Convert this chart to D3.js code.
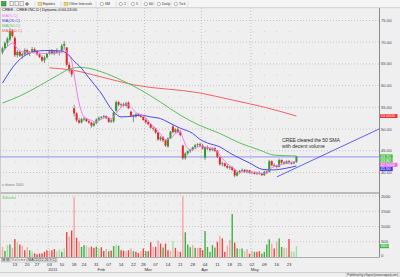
<!DOCTYPE html>
<html>
<head>
<meta charset="utf-8">
<script src="https://cdn.jsdelivr.net/npm/d3@7"></script>
<style>
  body { margin: 0; background: #efefef; }
  svg { display: block; font-family: "Liberation Sans", Arial, sans-serif; }
</style>
</head>
<body>
<svg id="main-svg" width="400" height="277"></svg>
<script>
// ---- data ----
var firstDay = "2010-12-06", lastDay = "2011-05-26";
var holidays = ["2010-12-24", "2011-01-17", "2011-02-21", "2011-04-22"];

// [open, high, low, close]
var candles = [
  [67.6,69.0,67.2,68.6],[68.6,70.2,68.3,69.8],[69.8,71.2,69.0,70.8],[70.6,73.2,70.2,72.6],[72.6,73.0,71.0,71.4],
  [71.0,71.4,66.6,67.0],[67.0,68.2,66.5,67.8],[67.8,68.0,66.6,66.9],[66.9,67.6,66.2,67.3],[67.2,68.6,67.0,68.2],
  [68.2,68.5,67.2,67.5],[67.5,68.0,66.8,67.8],[67.8,68.9,67.5,68.4],[68.4,68.8,67.6,67.9],[67.9,68.2,66.9,67.2],
  [67.2,67.6,66.3,66.6],[66.6,67.0,65.4,65.8],[65.8,66.9,65.2,66.5],[66.5,67.6,66.2,67.3],[67.3,68.3,67.0,67.9],
  [67.9,68.4,67.1,67.4],[67.4,68.2,67.0,67.9],[67.9,68.6,67.4,67.6],[67.6,68.0,66.9,67.8],[67.8,69.6,67.5,69.2],
  [69.2,70.3,68.4,69.6],[68.8,68.9,64.4,64.8],[64.8,65.4,63.0,63.5],[63.6,64.0,62.0,62.6],[54.8,55.6,52.9,53.6],
  [53.6,53.9,51.6,52.0],[52.0,52.6,51.2,51.5],[51.5,52.6,51.3,52.3],[52.2,52.8,51.8,52.4],[52.4,52.6,51.6,51.8],
  [51.8,52.2,51.2,51.5],[51.5,51.7,50.3,50.8],[50.8,51.6,50.5,51.3],[51.3,52.4,51.1,52.2],[52.2,52.9,51.9,52.6],
  [52.6,53.0,52.2,52.8],[52.8,53.3,52.4,53.0],[53.0,53.2,52.3,52.5],[52.5,52.8,51.4,51.7],[51.7,52.3,51.4,52.0],
  [51.8,54.0,51.4,53.8],[54.2,56.6,54.0,56.2],[56.2,56.5,55.2,55.6],[55.6,56.0,55.0,55.7],[55.7,56.1,55.2,55.4],
  [55.4,56.3,55.2,56.0],[56.1,56.4,54.6,54.8],[54.0,54.2,52.8,53.1],[53.1,53.4,51.6,52.9],[52.9,53.6,52.6,53.4],
  [53.4,53.7,52.9,53.1],[53.1,53.5,52.6,52.8],[52.8,53.0,51.9,52.1],[52.1,52.5,51.2,51.6],[51.6,52.0,50.9,51.1],
  [51.1,51.4,50.1,50.3],[50.3,50.6,49.6,50.1],[50.1,50.3,48.9,49.2],[49.2,49.4,47.3,47.6],[47.6,48.4,47.2,48.1],
  [48.1,48.4,47.0,47.4],[47.4,47.6,45.9,46.2],[46.0,48.1,45.7,47.9],[47.9,49.6,47.7,49.4],[50.6,51.0,49.0,49.3],
  [49.3,50.2,49.0,49.9],[49.9,50.4,49.1,49.4],[49.4,49.7,48.3,48.6],[46.2,46.4,42.9,43.3],[43.3,44.7,42.9,44.4],
  [44.4,45.1,44.0,44.9],[44.9,45.5,44.5,45.2],[45.2,46.0,45.0,45.8],[45.8,46.6,45.5,46.3],[46.3,46.8,45.9,46.5],
  [46.5,46.9,46.0,46.2],[46.2,46.6,45.3,45.5],[43.4,46.0,42.9,45.8],[45.8,46.2,45.2,45.5],[45.5,45.9,44.8,45.2],
  [45.2,45.8,44.9,45.6],[45.6,45.9,44.7,45.0],[45.0,45.2,43.3,43.6],[43.5,43.7,41.6,41.9],[41.9,42.5,41.4,42.1],
  [42.1,42.3,41.2,41.5],[41.5,41.9,40.8,41.1],[41.1,41.6,40.6,41.3],[41.3,41.4,40.3,40.6],[40.6,40.8,38.9,39.3],
  [39.3,40.2,39.1,40.0],[40.0,40.6,39.7,40.4],[40.4,40.9,40.1,40.6],[40.6,40.8,39.9,40.1],[40.1,40.7,39.8,40.5],
  [40.5,40.6,39.7,39.9],[39.9,40.4,39.6,40.1],[40.1,40.3,39.5,39.7],[39.7,40.2,39.4,39.9],[39.9,40.3,39.5,39.7],
  [39.7,39.9,39.2,39.4],[39.4,40.4,39.2,40.2],[40.2,40.5,39.7,39.9],[40.1,42.9,40.0,42.6],[42.6,42.8,41.4,41.7],
  [41.7,42.1,41.2,41.5],[41.5,41.8,40.9,41.3],[41.3,43.2,41.2,42.9],[42.9,43.0,42.0,42.3],[42.3,42.6,41.8,42.0],
  [42.0,42.8,41.9,42.6],[42.6,42.9,41.9,42.2],[42.2,42.5,41.8,42.1],[42.1,42.6,41.9,42.4],[42.4,43.8,42.2,43.7]
];

var volumes = [330,200,390,410,300,590,500,410,370,220,320,220,190,120,90,110,120,170,220,200,
  220,260,190,240,170,280,820,670,870,1970,630,500,330,390,380,310,340,300,340,280,
  320,200,260,190,210,360,410,370,220,210,190,220,280,190,170,130,190,280,190,190,
  480,330,330,540,440,310,440,220,200,520,300,190,170,1990,810,410,320,390,300,300,
  300,230,850,330,170,390,310,500,690,610,170,370,560,1410,470,280,260,280,190,260,
  110,190,170,170,190,110,170,410,580,440,280,500,610,330,300,300,590,190,170,360];
// r = red, p = pale red, g = green, l = pale green
var volColors = [
  "p","g","l","g","p","r","l","r","p","r",
  "p","g","l","r","r","r","r","r","r","p",
  "r","r","l","l","g","l","r","p","r","p",
  "r","p","g","g","l","p","r","r","g","l",
  "r","r","p","g","r","g","l","g","r","r",
  "p","r","p","g","r","r","p","r","g","r",
  "r","p","r","p","r","g","r","r","p","l",
  "r","p","r","p","g","g","g","p","g","p",
  "r","r","g","g","g","g","g","r","p","r",
  "r","p","p","g","r","g","l","g","l","p",
  "r","p","g","r","r","g","g","g","g","p",
  "r","p","g","g","p","l","r","l","l","l"];

var ma5 = [[0,67.6],[2,69.0],[4,69.8],[6,68.6],[8,67.8],[12,67.6],[16,67.4],[20,67.4],[24,67.8],[25,68.4],
  [26,67.8],[27,66.8],[28,65.6],[29,62.5],[30,59.0],[31,56.0],[32,54.0],[33,52.8],[36,52.0],[38,51.6],
  [40,52.3],[42,52.8],[44,52.4],[46,53.6],[48,55.0],[50,55.8],[52,55.0],[54,53.8],[56,53.3],[58,52.6],
  [60,51.2],[62,50.2],[64,48.8],[66,47.6],[68,47.8],[70,49.0],[72,49.3],[73,48.0],[74,46.5],[76,45.2],
  [78,45.5],[80,46.0],[82,45.9],[84,45.6],[86,45.4],[88,44.0],[90,42.6],[92,41.6],[94,40.8],[96,40.0],
  [98,40.2],[100,40.1],[102,40.0],[104,39.8],[106,39.8],[107,39.9],[108,40.6],[110,41.4],[112,41.7],
  [114,42.0],[116,42.3],[119,42.5]];
var ma20 = [[0,60.6],[6,65.5],[11,67.5],[15,68.0],[19,68.1],[23,68.0],[26,67.5],[29,65.6],[31,64.6],
  [35,61.8],[39.5,58.6],[45,54.0],[48,52.8],[53,53.0],[56,53.2],[60,52.8],[64,52.4],[67,51.6],[69,51.0],
  [72,50.2],[77,49.0],[80,47.6],[83,46.8],[88,45.9],[92,44.5],[96,43.3],[100,42.2],[105.5,40.7],
  [109.5,40.6],[115,41.0],[119,41.5]];
var ma50 = [[0,56.0],[7,57.6],[15,60.0],[23,62.6],[27,63.8],[31,64.2],[35,64.0],[40,63.2],[48,61.3],
  [56,59.0],[64,56.2],[72,53.2],[80,50.8],[88,49.0],[96,46.8],[104,45.2],[110,44.0],[119,43.8]];
var ma200 = [[19,64.1],[28,63.6],[40,62.0],[53,60.2],[80,58.3],[93,56.7],[107,54.9],[119,53.0]];

var trendLine = [[111.1,39.0],[152.4,50.0]];
var hLevel = 43.6;

var priceTicks = [40,45,50,55,60,65,70,75];
var volTicks = [0,500,1000,1500,2000];
var studyNames = ["MA(5,C)","MA(20,C)","MA(50,C)","MA(200,C)"];

// ---- layout ----
var svg = d3.select("#main-svg");
var axisX = 379.5, panelTop = 8, volTop = 193, volBottom = 257;
var cUp = "#2f9a2f", cDown = "#ee2222", cWick = "#666";
var colMA = ["#f07cf0","#4848e6","#5cbf5c","#f06262"];
var vcol = {r:"#f04444", p:"#f5a6a6", g:"#40b040", l:"#a6dca6"};

var parse = d3.timeParse("%Y-%m-%d"), fmt = d3.timeFormat("%Y-%m-%d");
var dates = d3.timeDay.range(parse(firstDay), d3.timeDay.offset(parse(lastDay), 1))
  .filter(function(d){ return d.getDay() > 0 && d.getDay() < 6 && holidays.indexOf(fmt(d)) < 0; });

var x = d3.scaleLinear().domain([0, 119]).range([2.5, 2.5 + 119 * 2.47]);
var y = d3.scaleLinear().domain([40, 75]).range([172.5, 20.5]);
var yv = d3.scaleLinear().domain([0, 2000]).range([volBottom, 196]);

var weekIdx = [], monthIdx = [];
dates.forEach(function(d, i){
  if (i == 0) return;
  if (d.getDay() <= dates[i-1].getDay()) weekIdx.push(i);
  if (d.getMonth() != dates[i-1].getMonth()) monthIdx.push(i);
});

// backgrounds
svg.append("rect").attr("width", 400).attr("height", 277).attr("fill", "#efefef");
svg.append("rect").attr("width", 400).attr("height", 7.5).attr("fill", "#f5f5f5");
svg.append("line").attr("x1", 0).attr("x2", 400).attr("y1", 7.7).attr("y2", 7.7)
  .attr("stroke", "#c8c8c8").attr("stroke-width", 0.8);

svg.append("clipPath").attr("id", "pclip").append("rect")
  .attr("x", 0).attr("y", panelTop).attr("width", axisX).attr("height", volTop - panelTop);

// grid
var grid = svg.append("g").attr("stroke", "#a8a8a8").attr("stroke-width", 0.6).attr("stroke-dasharray", "1,2");
grid.selectAll(".hp").data(priceTicks).enter().append("line")
  .attr("x1", 0).attr("x2", axisX).attr("y1", function(d){ return y(d); }).attr("y2", function(d){ return y(d); });
grid.selectAll(".hv").data(volTicks.slice(1)).enter().append("line")
  .attr("x1", 0).attr("x2", axisX).attr("y1", function(d){ return yv(d); }).attr("y2", function(d){ return yv(d); });
grid.selectAll(".vm").data(monthIdx).enter().append("line")
  .attr("x1", function(i){ return x(i - 0.5); }).attr("x2", function(i){ return x(i - 0.5); })
  .attr("y1", panelTop).attr("y2", volBottom);

// faint dots at half levels
var dots = [];
weekIdx.forEach(function(i){
  priceTicks.slice(0, -1).forEach(function(t){ dots.push([x(i), y(t + 2.5)]); });
  [250, 750, 1250, 1750].forEach(function(t){ dots.push([x(i), yv(t)]); });
});
svg.append("g").selectAll("rect").data(dots).enter().append("rect")
  .attr("x", function(d){ return d[0]; }).attr("y", function(d){ return d[1]; })
  .attr("width", 0.7).attr("height", 0.7).attr("fill", "#b4b4b4");

// axis frame
svg.append("line").attr("x1", axisX).attr("x2", axisX).attr("y1", panelTop).attr("y2", volBottom + 0.5)
  .attr("stroke", "#8a8a8a").attr("stroke-width", 1);
svg.append("line").attr("x1", 0).attr("x2", axisX).attr("y1", volTop).attr("y2", volTop)
  .attr("stroke", "#8a8a8a").attr("stroke-width", 1.2);
svg.append("line").attr("x1", 0).attr("x2", axisX).attr("y1", volBottom + 0.5).attr("y2", volBottom + 0.5)
  .attr("stroke", "#9a9a9a").attr("stroke-width", 0.8);
svg.append("line").attr("x1", 0.5).attr("x2", 0.5).attr("y1", panelTop).attr("y2", volBottom)
  .attr("stroke", "#c4c4c4").attr("stroke-width", 0.8);

var price = svg.append("g").attr("clip-path", "url(#pclip)");

// horizontal level line
price.append("line").attr("x1", 0).attr("x2", axisX).attr("y1", y(hLevel)).attr("y2", y(hLevel))
  .attr("stroke", "#a4a4f4").attr("stroke-width", 1.3);

// candles
var cg = price.append("g").selectAll("g").data(candles).enter().append("g");
cg.append("line")
  .attr("x1", function(d, i){ return x(i); }).attr("x2", function(d, i){ return x(i); })
  .attr("y1", function(d){ return y(d[1]); }).attr("y2", function(d){ return y(d[2]); })
  .attr("stroke", cWick).attr("stroke-width", 0.7);
cg.append("rect")
  .attr("x", function(d, i){ return x(i) - 1; }).attr("width", 2)
  .attr("y", function(d){ return y(Math.max(d[0], d[3])); })
  .attr("height", function(d){ return Math.max(0.8, Math.abs(y(d[0]) - y(d[3]))); })
  .attr("fill", function(d){ return d[3] >= d[0] ? cUp : cDown; });

// moving averages
var line = d3.line().x(function(d){ return x(d[0]); }).y(function(d){ return y(d[1]); }).curve(d3.curveMonotoneX);
[ma200, ma50, ma20, ma5].forEach(function(s, k){
  price.append("path").datum(s).attr("d", line).attr("fill", "none")
    .attr("stroke", colMA[3 - k]).attr("stroke-width", 1);
});

// trend line
price.append("path").datum(trendLine).attr("d", d3.line().x(function(d){ return x(d[0]); }).y(function(d){ return y(d[1]); }))
  .attr("stroke", "#5050ee").attr("stroke-width", 0.9).attr("fill", "none");

// annotation
svg.append("text").attr("x", 282).attr("y", 141.8).attr("font-size", 5.2).attr("fill", "#333")
  .attr("textLength", 58).text("CREE cleared the 50 SMA");
svg.append("text").attr("x", 282).attr("y", 148).attr("font-size", 5.2).attr("fill", "#333")
  .attr("textLength", 43).text("with decent volume");

// volume bars
svg.append("g").selectAll("rect").data(volumes).enter().append("rect")
  .attr("x", function(d, i){ return x(i) - 0.7; }).attr("width", 1.4)
  .attr("y", function(d){ return yv(d); })
  .attr("height", function(d){ return volBottom - yv(d); })
  .attr("fill", function(d, i){ return vcol[volColors[i]]; });

// legends
svg.append("text").attr("x", 2).attr("y", 11.3).attr("font-size", 4.2).attr("fill", "#222")
  .attr("textLength", 75).text("CREE - CREE INC,D | Dynamic,0:00-24:00");
studyNames.forEach(function(n, k){
  svg.append("text").attr("x", 2).attr("y", 16.6 + k * 5.2).attr("font-size", 4.2)
    .attr("fill", colMA[k]).text(n);
});
svg.append("text").attr("x", 2).attr("y", 185.5).attr("font-size", 3.4).attr("fill", "#777").text("x shares 1000");
svg.append("text").attr("x", 2).attr("y", 199).attr("font-size", 4.2).attr("fill", "#5cbf5c").text("Volume");

// price axis labels
svg.append("g").selectAll("text").data(priceTicks).enter().append("text")
  .attr("x", 381).attr("y", function(d){ return y(d) + 1.5; })
  .attr("font-size", 4.2).attr("fill", "#445").text(function(d){ return d3.format(".2f")(d); });
svg.append("g").selectAll("text").data(volTicks).enter().append("text")
  .attr("x", 381).attr("y", function(d){ return (d == 0 ? yv(d) - 2 : yv(d)) + 1.5; })
  .attr("font-size", 4.2).attr("fill", "#445").text(function(d){ return d; });

// value tags on the axis
var last = candles[candles.length - 1];
var tags = [
  {v: last[3], c: "#3cc03c", t: d3.format(".2f")(last[3])},
  {v: ma50[ma50.length-1][1], c: "#5cbf5c", t: d3.format(".2f")(ma50[ma50.length-1][1])},
  {v: ma5[ma5.length-1][1], c: "#ee66ee", t: d3.format(".4f")(ma5[ma5.length-1][1])},
  {v: ma20[ma20.length-1][1], c: "#3c3ce0", t: d3.format(".2f")(ma20[ma20.length-1][1])},
  {v: ma200[ma200.length-1][1], c: "#ee3030", t: d3.format(".4f")(ma200[ma200.length-1][1])}
];
var prevY = -99;
tags.forEach(function(tg, k){
  var ty = y(tg.v);
  if (k < 4) { ty = Math.max(ty, prevY + 4.2); prevY = ty; }
  var w = tg.t.length * 2.35 + 1;
  svg.append("rect").attr("x", 380).attr("y", ty - 2).attr("width", w).attr("height", 4)
    .attr("fill", tg.c);
  svg.append("text").attr("x", 380.5).attr("y", ty + 1.4).attr("font-size", 4).attr("fill", "#fff").text(tg.t);
});
var lv = volumes[volumes.length - 1];
svg.append("rect").attr("x", 380).attr("y", yv(lv) - 2).attr("width", 9).attr("height", 4.2).attr("fill", "#3cc03c");
svg.append("text").attr("x", 380.5).attr("y", yv(lv) + 1.4).attr("font-size", 4).attr("fill", "#fff").text(d3.format(".2f")(lv));

// bottom tabs
var tabs = [["MM", 1.5, 8.5, "#d8d8d8"], ["Volume", 11, 15.5, "#fdfdfd"], ["MACD(12,26,9,C)", 27.5, 29.5, "#e4e4e4"]];
tabs.forEach(function(t){
  svg.append("rect").attr("x", t[1]).attr("y", 258).attr("width", t[2]).attr("height", 4)
    .attr("fill", t[3]).attr("stroke", "#999").attr("stroke-width", 0.4);
  svg.append("text").attr("x", t[1] + 0.8).attr("y", 261.3).attr("font-size", 3.4).attr("fill", "#333")
    .attr("textLength", t[2] - 1.6).text(t[0]);
});

// x axis labels
svg.append("g").selectAll("text").data(weekIdx).enter().append("text")
  .attr("x", function(i){ return x(i); }).attr("y", 266).attr("text-anchor", "middle")
  .attr("font-size", 4.3).attr("fill", "#333").text(function(i){ return d3.timeFormat("%d")(dates[i]); });
svg.append("g").selectAll("text").data(monthIdx).enter().append("text")
  .attr("x", function(i){ return x(i - 0.5); }).attr("y", 271.2)
  .attr("font-size", 4.3).attr("fill", "#333")
  .text(function(i){ return dates[i].getMonth() == 0 ? d3.timeFormat("%Y")(dates[i]) : d3.timeFormat("%b")(dates[i]); });

// status bar
svg.append("line").attr("x1", 0).attr("x2", 400).attr("y1", 272.5).attr("y2", 272.5).attr("stroke", "#bcbcbc").attr("stroke-width", 0.6);
svg.append("rect").attr("x", 346).attr("y", 273).attr("width", 53).attr("height", 4).attr("fill", "#f2f2f2")
  .attr("stroke", "#b8b8b8").attr("stroke-width", 0.4);
svg.append("text").attr("x", 347).attr("y", 276.2).attr("font-size", 3.3).attr("fill", "#444")
  .attr("textLength", 51).text("Published by eSignal (www.esignal.com)");

// toolbar
var tb = svg.append("g");
tb.append("rect").attr("x", 1.5).attr("y", 1.5).attr("width", 4.5).attr("height", 4.5).attr("fill", "#3fae3f").attr("stroke", "#256a25").attr("stroke-width", 0.5);
[10, 15, 20].forEach(function(px){
  tb.append("rect").attr("x", px).attr("y", 1.6).attr("width", 3.2).attr("height", 4.2).attr("fill", "#f8f8f8").attr("stroke", "#777").attr("stroke-width", 0.5);
});
tb.append("path").attr("d", "M25,4 h4 M27,2 v4").attr("stroke", "#444").attr("stroke-width", 0.8);
[[38, "Equities", 12], [64, "Other Intervals", 23]].forEach(function(f){
  tb.append("rect").attr("x", f[0]).attr("y", 2.2).attr("width", 4).attr("height", 3.2).attr("fill", "#f2d27a").attr("stroke", "#b8962e").attr("stroke-width", 0.4);
  tb.append("text").attr("x", f[0] + 5).attr("y", 5.4).attr("font-size", 3.6).attr("fill", "#333").attr("textLength", f[2]).text(f[1]);
});
[[100, "6M"], [119, "1"], [131, "5"], [144, "60"], [157, "Daily"], [174, "Tick"]].forEach(function(b){
  tb.append("circle").attr("cx", b[0] + 1.8).attr("cy", 4).attr("r", 1.7).attr("fill", "#fff").attr("stroke", "#666").attr("stroke-width", 0.45);
  tb.append("text").attr("x", b[0] + 5).attr("y", 5.4).attr("font-size", 3.6).attr("fill", "#333").text(b[1]);
});
[35, 61, 96, 116, 128, 141, 154, 171, 188].forEach(function(px){
  tb.append("line").attr("x1", px).attr("x2", px).attr("y1", 1.2).attr("y2", 6.6).attr("stroke", "#ccc").attr("stroke-width", 0.5);
});
</script>
</body>
</html>
